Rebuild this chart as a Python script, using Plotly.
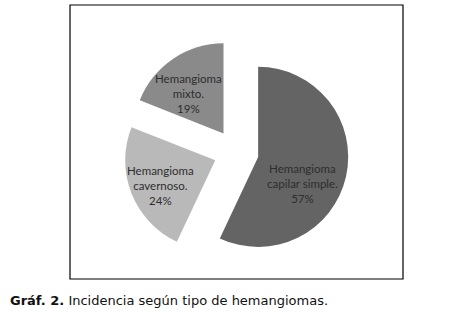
import plotly.graph_objects as go

labels = ["Hemangioma capilar simple.", "Hemangioma cavernoso.", "Hemangioma mixto."]
values = [57, 24, 19]
label_lines = [["Hemangioma", "capilar simple."], ["Hemangioma", "cavernoso."], ["Hemangioma", "mixto."]]
colors = ["#646464", "#b9b9b9", "#8a8a8a"]
pulls = [0.25, 0.25, 0.25]
# label centres (pixels in 470x318 canvas)
label_pos = [(302, 183), (160, 185), (188, 93)]

W, H = 470, 318
fig = go.Figure()
fig.add_trace(go.Pie(
    labels=labels, values=values, textinfo="none",
    sort=False, direction="clockwise", rotation=0, pull=pulls,
    marker=dict(colors=colors, line=dict(width=0)),
    domain=dict(x=[0.263, 0.742], y=[0.168, 0.876]),
    showlegend=False, hoverinfo="skip",
))
for lines, v, (px, py) in zip(label_lines, values, label_pos):
    fig.add_annotation(xref="paper", yref="paper", x=px / W, y=1 - py / H,
                       xanchor="center", yanchor="middle", showarrow=False,
                       text="<br>".join(lines + [f"{v}%"]),
                       font=dict(family="Lato", size=11.5, color="#2e2e2e"))
fig.add_shape(type="rect", xref="paper", yref="paper",
              x0=70 / W, x1=403 / W, y0=1 - 279 / H, y1=1 - 5 / H,
              line=dict(color="black", width=1.2))
fig.add_annotation(xref="paper", yref="paper", x=8 / W, y=1 - 300 / H,
                   xanchor="left", yanchor="middle", showarrow=False,
                   text="<b>Gráf. 2.</b> Incidencia según tipo de hemangiomas.",
                   font=dict(family="DejaVu Sans", size=13, color="#111111"))
fig.update_layout(width=W, height=H, margin=dict(l=0, r=0, t=0, b=0),
                  paper_bgcolor="white", plot_bgcolor="white")
fig.write_html("out.html")
